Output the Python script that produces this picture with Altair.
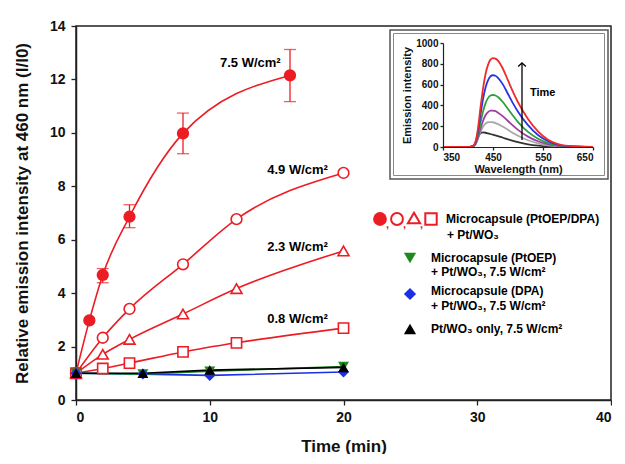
import altair as alt
import pandas as pd

FONT = "Liberation Sans"
RED = "#ec1c24"
GREEN = "#1d8a1d"
BLUE = "#1c2fe6"
BLACK = "#000000"

# ---------------- main data ----------------
t_75 = [0, 1, 2, 4, 8, 16]
v_75 = [1.0, 2.98, 4.68, 6.86, 9.98, 12.15]
err_t = [2, 4, 8, 16]
err_lo = [4.39, 6.45, 9.22, 11.17]
err_hi = [4.92, 7.31, 10.74, 13.12]

t_49 = [0, 2, 4, 8, 12, 20]
v_49 = [1.0, 2.33, 3.41, 5.08, 6.77, 8.5]
t_23 = [0, 2, 4, 8, 12, 20]
v_23 = [1.0, 1.71, 2.27, 3.22, 4.17, 5.58]
t_08 = [0, 2, 4, 8, 12, 20]
v_08 = [1.0, 1.18, 1.38, 1.80, 2.14, 2.69]

t_ctrl = [0, 5, 10, 20]
v_ptoep = [1.0, 0.97, 1.08, 1.25]
v_dpa = [1.0, 0.97, 0.92, 1.05]
v_only = [1.0, 1.0, 1.12, 1.22]

power_labels = ["7.5 W/cm²", "4.9 W/cm²", "2.3 W/cm²", "0.8 W/cm²"]
legend_texts = [
    ["Microcapsule (PtOEP/DPA)", "+ Pt/WO₃"],
    ["Microcapsule (PtOEP)", "+ Pt/WO₃, 7.5 W/cm²"],
    ["Microcapsule (DPA)", "+ Pt/WO₃, 7.5 W/cm²"],
    ["Pt/WO₃ only, 7.5 W/cm²"],
]

# ---------------- inset data ----------------
wl = [350, 400, 410, 415, 420, 425, 430, 435, 440, 445, 450, 455, 460, 470, 480, 490, 500, 520, 540, 560, 580, 600, 650]
sp_red = [0, 0, 10, 50, 180, 380, 560, 700, 790, 840, 855, 850, 830, 750, 640, 530, 430, 270, 150, 70, 28, 10, 0]
sp_blue = [0, 0, 10, 45, 150, 310, 460, 570, 640, 680, 690, 685, 665, 600, 510, 420, 340, 210, 115, 55, 22, 8, 0]
sp_green = [0, 0, 8, 35, 115, 230, 340, 420, 470, 495, 500, 495, 480, 430, 365, 300, 240, 145, 80, 38, 15, 5, 0]
sp_purple = [0, 0, 6, 28, 90, 175, 250, 305, 335, 350, 350, 345, 330, 295, 250, 205, 165, 100, 55, 25, 10, 3, 0]
sp_gray = [0, 0, 5, 25, 80, 145, 195, 225, 238, 240, 238, 230, 220, 195, 165, 135, 108, 65, 35, 15, 6, 2, 0]
sp_black = [0, 0, 5, 30, 95, 132, 140, 137, 131, 125, 118, 111, 104, 89, 74, 60, 47, 26, 13, 5, 2, 0, 0]
spec_names = ["t0", "t1", "t2", "t3", "t4", "t5"]
spec_colors = ["#333333", "#a8a8a8", "#9b3fa0", "#2e9e3a", "#2a35e0", "#ee2a2a"]
spectra = [sp_black, sp_gray, sp_purple, sp_green, sp_blue, sp_red]

W, H = 535, 374

xs = alt.Scale(domain=[0, 40], nice=False, zero=False)
ys = alt.Scale(domain=[0, 14], nice=False)
xaxis = alt.Axis(values=[0, 10, 20, 30, 40], title="Time (min)", grid=False,
                 tickSize=5, labelPadding=5, titlePadding=14,
                 labelFontSize=14, titleFontSize=17)
yaxis = alt.Axis(values=list(range(0, 15, 2)), title="Relative emission intensity at 460 nm (I/I0)",
                 grid=False, tickSize=5, labelPadding=6, titlePadding=18,
                 labelFontSize=14, titleFontSize=17)


def X(field="time"):
    return alt.X(f"{field}:Q", scale=xs, axis=xaxis)


def Y(field="value"):
    return alt.Y(f"{field}:Q", scale=ys, axis=yaxis)


layers = []


def add_series(t, v, color, interp):
    df = pd.DataFrame({"time": t, "value": v})
    base = alt.Chart(df).encode(x=X(), y=Y())
    layers.append(base.mark_line(color=color, strokeWidth=1.6, interpolate=interp))
    return base


def add_points(base, color, shape, open_, size):
    if open_:
        layers.append(base.mark_point(shape=shape, filled=True, fill="white", stroke=color,
                                      strokeWidth=1.6, size=size, opacity=1))
    else:
        layers.append(base.mark_point(shape=shape, filled=True, color=color, size=size, opacity=1))


b75 = add_series(t_75, v_75, RED, "monotone")
b49 = add_series(t_49, v_49, RED, "monotone")
b23 = add_series(t_23, v_23, RED, "monotone")
b08 = add_series(t_08, v_08, RED, "monotone")
bdpa = add_series(t_ctrl, v_dpa, BLUE, "linear")
bpto = add_series(t_ctrl, v_ptoep, GREEN, "linear")
bonly = add_series(t_ctrl, v_only, BLACK, "linear")

# error bars
edf = pd.DataFrame({"time": err_t, "lo": err_lo, "hi": err_hi})
eb = alt.Chart(edf)
layers.append(eb.mark_rule(color=RED, strokeWidth=1.3).encode(x=X(), y=Y("lo"), y2="hi:Q"))
layers.append(eb.mark_tick(color=RED, orient="horizontal", size=12, thickness=1.3).encode(x=X(), y=Y("lo")))
layers.append(eb.mark_tick(color=RED, orient="horizontal", size=12, thickness=1.3).encode(x=X(), y=Y("hi")))

add_points(b75, RED, "circle", False, 150)
add_points(b49, RED, "circle", True, 115)
add_points(b23, RED, "triangle-up", True, 120)
add_points(b08, RED, "square", True, 105)
add_points(bpto, GREEN, "triangle-down", False, 120)
add_points(bdpa, BLUE, "diamond", False, 120)
add_points(bonly, BLACK, "triangle-up", False, 120)

one = pd.DataFrame({"a": [0]})
# power labels
label_pos = [(15.3, 12.6, "right"), (14.3, 8.62, "left"), (14.3, 5.72, "left"), (14.3, 3.03, "left")]
for txt, (tx, ty, al) in zip(power_labels, label_pos):
    layers.append(alt.Chart(one).mark_text(font=FONT, fontWeight="bold", fontSize=13, align=al,
                                           baseline="middle", color="black")
                  .encode(x=alt.datum(tx, scale=xs), y=alt.datum(ty, scale=ys), text=alt.value(txt)))


# legend (pixel positions inside the plot area)
def lpoint(px, py, shape, color, open_, size):
    if open_:
        m = alt.Chart(one).mark_point(shape=shape, filled=True, fill="white", stroke=color,
                                      strokeWidth=2, size=size, opacity=1)
    else:
        m = alt.Chart(one).mark_point(shape=shape, filled=True, color=color, size=size, opacity=1)
    layers.append(m.encode(x=alt.value(px), y=alt.value(py)))


def ltext(px, py, txt, color="black", size=12):
    layers.append(alt.Chart(one).mark_text(font=FONT, fontWeight="bold", fontSize=size, align="left",
                                           baseline="middle", color=color)
                  .encode(x=alt.value(px), y=alt.value(py), text=alt.value(txt)))


lpoint(304, 193, "circle", RED, False, 190)
lpoint(321, 193, "circle", RED, True, 140)
lpoint(338, 192, "triangle-up", RED, True, 150)
lpoint(355, 193, "square", RED, True, 130)
for cx in [310, 327, 344]:
    ltext(cx, 199, ",", RED, 11)
ltext(370, 193, legend_texts[0][0])
ltext(371, 209, legend_texts[0][1])
lpoint(334, 232, "triangle-down", GREEN, False, 150)
ltext(355, 232, legend_texts[1][0])
ltext(355, 246, legend_texts[1][1])
lpoint(334, 268, "diamond", BLUE, False, 150)
ltext(355, 265, legend_texts[2][0])
ltext(355, 280, legend_texts[2][1])
lpoint(334, 303, "triangle-up", BLACK, False, 150)
ltext(355, 303, legend_texts[3][0])

# inset frame
layers.append(alt.Chart(one).mark_rect(fillOpacity=0, stroke="#555555", strokeWidth=1.5)
              .encode(x=alt.value(314), x2=alt.value(532), y=alt.value(4), y2=alt.value(153)))
layers.append(alt.Chart(one).mark_rect(fillOpacity=0, stroke="#8a8a8a", strokeWidth=1)
              .encode(x=alt.value(317.5), x2=alt.value(528.5), y=alt.value(7.5), y2=alt.value(149.5)))

main = alt.layer(*layers)

# ---------------- inset ----------------
rows = []
for name, sp in zip(spec_names, spectra):
    for w_, e_ in zip(wl, sp):
        rows.append({"wl": w_, "em": e_, "run": name})
sdf = pd.DataFrame(rows)

xs_in = alt.Scale(domain=[350, 650], range=[367, 517], nice=False, zero=False)
ys_in = alt.Scale(domain=[0, 1000], range=[121, 17], nice=False)
xin_axis = alt.Axis(orient="bottom", offset=-(H - 121), values=[350, 450, 550, 650], grid=False,
                    title="Wavelength (nm)", tickSize=3, labelPadding=2, titlePadding=1,
                    labelFontSize=10, titleFontSize=11, domainWidth=1.2, zindex=1, format="d")
yin_axis = alt.Axis(orient="left", offset=-367, values=[0, 200, 400, 600, 800, 1000], grid=False,
                    title="Emission intensity", tickSize=3, labelPadding=2, titlePadding=3,
                    labelFontSize=10, titleFontSize=11, domainWidth=1.2, zindex=1, format="d")

curves = alt.Chart(sdf).mark_line(strokeWidth=1.8, interpolate="monotone").encode(
    x=alt.X("wl:Q", scale=xs_in, axis=xin_axis),
    y=alt.Y("em:Q", scale=ys_in, axis=yin_axis),
    color=alt.Color("run:N", scale=alt.Scale(domain=spec_names, range=spec_colors), legend=None),
    order=alt.Order("wl:Q"),
)
arrow_df = pd.DataFrame({"wl": [508, 508], "em": [67, 808]})
arrow = alt.Chart(arrow_df).mark_line(color="black", strokeWidth=1.3).encode(
    x=alt.X("wl:Q", scale=xs_in, axis=xin_axis), y=alt.Y("em:Q", scale=ys_in, axis=yin_axis))
head = alt.Chart(one).mark_point(shape="M -1 0.9 L 0 0 L 1 0.9", filled=False, stroke="black",
                                 strokeWidth=1.3, size=60, opacity=1).encode(
    x=alt.datum(508, scale=xs_in), y=alt.datum(808, scale=ys_in))
time_txt = alt.Chart(one).mark_text(font=FONT, fontWeight="bold", fontSize=11, align="left",
                                    baseline="middle").encode(
    x=alt.datum(524, scale=xs_in), y=alt.datum(520, scale=ys_in), text=alt.value("Time"))

inset = alt.layer(curves, arrow, head, time_txt)

chart = alt.layer(main, inset).resolve_scale(x="independent", y="independent").properties(
    width=W, height=H, padding={"left": 5, "top": 11, "right": 0, "bottom": 0},
    background="white",
).configure_view(stroke="#222222", strokeWidth=1.5).configure_axis(
    labelFont=FONT, titleFont=FONT, labelFontWeight="bold", titleFontWeight="bold",
    labelColor="#111111", titleColor="#111111", domainColor="#222222", tickColor="#222222",
    domainWidth=1.5, tickWidth=1.3,
).configure_text(font=FONT)

chart.save("out.html", embed_options={"renderer": "svg", "actions": False})
